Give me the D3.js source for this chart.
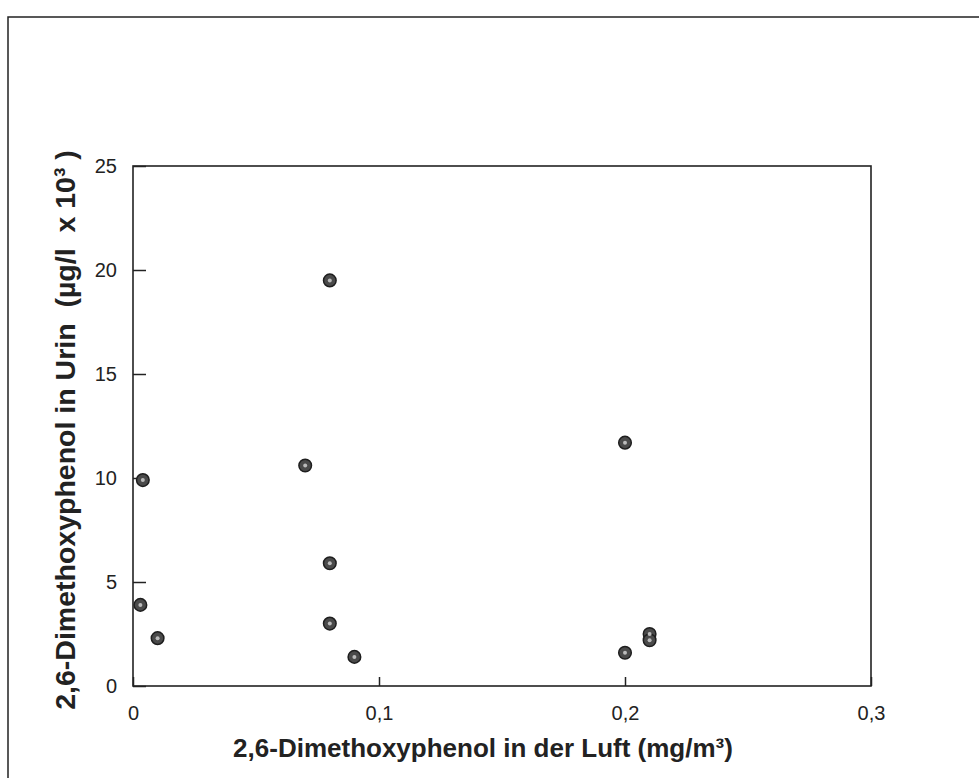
<!DOCTYPE html>
<html><head><meta charset="utf-8">
<script src="https://cdn.jsdelivr.net/npm/d3@7"></script>
<style>body{margin:0;background:#fff}svg{display:block}</style>
</head><body>
<svg id="c" width="979" height="778"></svg>
<script>
const xValues = [0.08, 0.07, 0.08, 0.08, 0.09, 0.004, 0.003, 0.01, 0.2, 0.2, 0.21, 0.21];
const yValues = [19.5, 10.6, 5.9, 3.0, 1.4, 9.9, 3.9, 2.3, 11.7, 1.6, 2.5, 2.2];
const xTicks = [0, 0.1, 0.2, 0.3];
const xTickLabels = ["0", "0,1", "0,2", "0,3"];
const yTicks = [0, 5, 10, 15, 20, 25];
const xTitle = "2,6-Dimethoxyphenol in der Luft (mg/m³)";
const yTitle = "2,6-Dimethoxyphenol in Urin\u00a0 (µg/l\u00a0 x 10³ )";

const svg = d3.select("#c");
const L = 133, R = 871, T = 166, B = 686;
const x = d3.scaleLinear().domain([0, 0.3]).range([L, R]);
const y = d3.scaleLinear().domain([0, 25]).range([B, T]);
const font = "Arial, 'Liberation Sans', sans-serif";

// outer frame
svg.append("path").attr("d", "M8,790 L8,17 L990,17")
  .attr("fill", "none").attr("stroke", "#222").attr("stroke-width", 1.5);

// plot frame
svg.append("rect").attr("x", L).attr("y", T).attr("width", R - L).attr("height", B - T)
  .attr("fill", "none").attr("stroke", "#222").attr("stroke-width", 1.6);

// y axis (inward ticks)
const yAxis = d3.axisLeft(y).tickValues(yTicks).tickSize(-13).tickPadding(16).tickFormat(d => String(d));
const gy = svg.append("g").attr("transform", `translate(${L},0)`).call(yAxis);
gy.select(".domain").remove();
gy.selectAll("line").attr("stroke", "#222").attr("stroke-width", 1.5);
gy.selectAll("text").attr("font-family", font).attr("font-size", 20).attr("fill", "#222");

// x axis (inward ticks)
const xAxis = d3.axisBottom(x).tickValues(xTicks).tickSize(-9).tickPadding(20)
  .tickFormat((d, i) => xTickLabels[i]);
const gx = svg.append("g").attr("transform", `translate(0,${B})`).call(xAxis);
gx.select(".domain").remove();
gx.selectAll("line").attr("stroke", "#222").attr("stroke-width", 1.5);
gx.selectAll("text").attr("font-family", font).attr("font-size", 20).attr("fill", "#222");

// titles
svg.append("text").attr("x", 483).attr("y", 757).attr("text-anchor", "middle")
  .attr("font-family", font).attr("font-weight", "bold").attr("font-size", 26).attr("fill", "#222")
  .text(xTitle);
svg.append("text").attr("transform", `translate(75,430) rotate(-90)`).attr("text-anchor", "middle")
  .attr("font-family", font).attr("font-weight", "bold").attr("font-size", 28.5).attr("fill", "#222")
  .style("white-space", "pre")
  .text(yTitle);

// points
const pts = xValues.map((v, i) => ({x: v, y: yValues[i]}));
const g = svg.append("g");
g.selectAll("circle.o").data(pts).join("circle").attr("class", "o")
  .attr("cx", d => x(d.x)).attr("cy", d => y(d.y)).attr("r", 6.3)
  .attr("fill", "#4a4a4a").attr("stroke", "#1e1e1e").attr("stroke-width", 1.5);
g.selectAll("circle.i").data(pts).join("circle").attr("class", "i")
  .attr("cx", d => x(d.x)).attr("cy", d => y(d.y)).attr("r", 2)
  .attr("fill", "#bbb");
</script>
</body></html>
